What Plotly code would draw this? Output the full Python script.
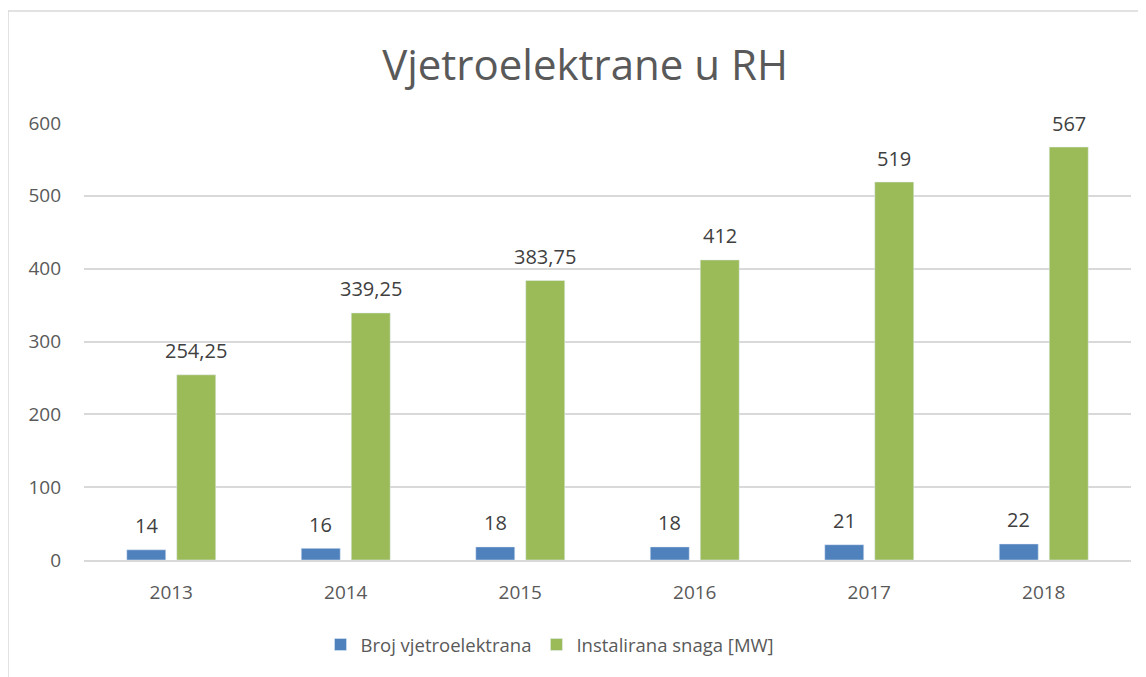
import plotly.graph_objects as go

years = ["2013", "2014", "2015", "2016", "2017", "2018"]
broj = [14, 16, 18, 18, 21, 22]
snaga = [254.25, 339.25, 383.75, 412, 519, 567]
series_names = ["Broj vjetroelektrana", "Instalirana snaga [MW]"]
title_text = "Vjetroelektrane u RH"
y_ticks = [0, 100, 200, 300, 400, 500, 600]

def fmt(v):
    return f"{v:g}".replace(".", ",")

W, H = 1146, 677
OFF = 8  # page body margin offset
# target pixel positions (in reference screenshot)
PL, PR, PT, PB = 84, 1131, 123, 560
L = PL - OFF
R = W - (PR - OFF)
T = PT - OFF
B = H - (PB - OFF)
pw, ph = PR - PL, PB - PT

def px2x(px):
    return (px - PL) / pw

def px2y(py):
    return (PB - py) / ph

fig = go.Figure()
fig.add_trace(go.Bar(x=years, y=broj, name=series_names[0], marker_color="#4F81BD"))
fig.add_trace(go.Bar(x=years, y=snaga, name=series_names[1], marker_color="#9BBB59"))

annotations = []
for series, shift in ((broj, -25), (snaga, 25)):
    for i, v in enumerate(series):
        # x given as category serial number of years[i]
        annotations.append(dict(x=i, y=v, xref="x", yref="y", text=fmt(v),
                                showarrow=False, xshift=shift, yshift=24,
                                xanchor="center", yanchor="middle",
                                font=dict(size=20, color="#404040", family="Open Sans")))

fig.update_layout(
    width=W, height=H,
    margin=dict(l=L, r=R, t=T, b=B),
    paper_bgcolor="white", plot_bgcolor="white",
    font=dict(family="Open Sans", color="#595959", size=18),
    title=dict(text=title_text, x=px2x(585), xref="paper", xanchor="center",
               y=1 - (65 - OFF) / H, yanchor="middle",
               font=dict(size=42, color="#595959")),
    barmode="group", bargap=0.427, bargroupgap=0.22,
    showlegend=True,
    legend=dict(orientation="h", x=px2x(550), xanchor="center", y=px2y(645), yanchor="middle",
                font=dict(size=18.5, color="#595959"), itemwidth=30),
    annotations=annotations,
    shapes=[dict(type="rect", xref="paper", yref="paper",
                 x0=px2x(8), x1=px2x(1160), y0=px2y(700), y1=px2y(11),
                 line=dict(color="#D9D9D9", width=1.5), layer="below")],
)
fig.update_xaxes(type="category", showgrid=False, showline=True, linecolor="#D9D9D9", linewidth=1.5,
                 ticks="", tickfont=dict(size=19, color="#595959"), ticklabelstandoff=14)
fig.update_yaxes(range=[0, 600], tickvals=y_ticks, showgrid=True, gridcolor="#D9D9D9",
                 gridwidth=1.5, zeroline=False, showline=False,
                 tickfont=dict(size=19, color="#595959"), ticklabelstandoff=22)

fig.write_html("out.html")
